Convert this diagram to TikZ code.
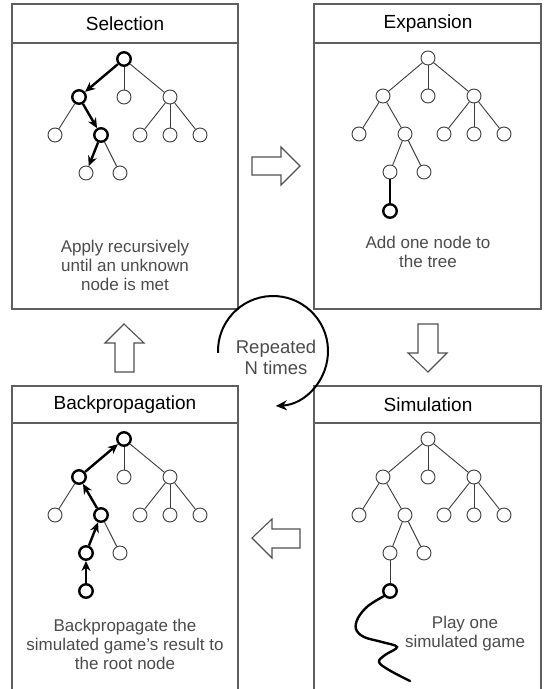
\documentclass[tikz,border=0pt]{standalone}
\usepackage{fontspec}
\setmainfont{Liberation Sans}
\usetikzlibrary{arrows.meta}

\definecolor{framegray}{RGB}{95,95,95}
\definecolor{edgegray}{RGB}{60,60,60}
\definecolor{captiongray}{RGB}{75,75,75}

% per-node and per-edge hooks of the tree, empty unless a panel sets them
\tikzset{
  n r/.style={}, n a/.style={}, n b/.style={}, n c/.style={},
  n aa/.style={}, n ab/.style={}, n ca/.style={}, n cb/.style={}, n cc/.style={},
  n aba/.style={}, n abb/.style={},
  e a/.style={}, e b/.style={}, e c/.style={},
  e aa/.style={}, e ab/.style={}, e ca/.style={}, e cb/.style={}, e cc/.style={},
  e aba/.style={}, e abb/.style={},
}

% the common search tree: #1 name prefix, #2 position of the root
\newcommand\mctstree[2]{%
  \begin{scope}[shift={(#2)}]
    \node[tnode,n r]   (#1r)   at (0,0)     {};
    \node[tnode,n a]   (#1a)   at (-45,38)  {};
    \node[tnode,n b]   (#1b)   at (0,38)    {};
    \node[tnode,n c]   (#1c)   at (46,38)   {};
    \node[tnode,n aa]  (#1aa)  at (-69,76)  {};
    \node[tnode,n ab]  (#1ab)  at (-23,76)  {};
    \node[tnode,n ca]  (#1ca)  at (16,76)   {};
    \node[tnode,n cb]  (#1cb)  at (46,76)   {};
    \node[tnode,n cc]  (#1cc)  at (76,76)   {};
    \node[tnode,n aba] (#1aba) at (-38,114) {};
    \node[tnode,n abb] (#1abb) at (-4,114)  {};
  \end{scope}
  \draw[tedge,e a]   (#1r)  -- (#1a);
  \draw[tedge,e b]   (#1r)  -- (#1b);
  \draw[tedge,e c]   (#1r)  -- (#1c);
  \draw[tedge,e aa]  (#1a)  -- (#1aa);
  \draw[tedge,e ab]  (#1a)  -- (#1ab);
  \draw[tedge,e ca]  (#1c)  -- (#1ca);
  \draw[tedge,e cb]  (#1c)  -- (#1cb);
  \draw[tedge,e cc]  (#1c)  -- (#1cc);
  \draw[tedge,e aba] (#1ab) -- (#1aba);
  \draw[tedge,e abb] (#1ab) -- (#1abb);
}

\begin{document}
\begin{tikzpicture}[x=1pt,y=-1pt,
  frame/.style={draw=framegray, line width=1.1pt},
  tnode/.style={circle, draw=edgegray, line width=0.9pt, fill=white,
                minimum size=14pt, inner sep=0pt},
  hot/.style={draw=black, line width=2.4pt, minimum size=13.5pt},
  tedge/.style={draw=edgegray, line width=0.9pt},
  hotedge/.style={draw=black, line width=2.4pt},
  hotarrow/.style={hotedge, -{Stealth[length=10pt,width=9pt]}},
  hotback/.style={hotedge, {Stealth[length=10pt,width=9pt]}-},
  title/.style={font=\fontsize{19}{22}\selectfont, text=black},
  caption/.style={font=\fontsize{17}{19}\selectfont, text=captiongray, align=center},
  blockarrow/.style={draw=framegray!85!black, line width=1.1pt, fill=white, line join=miter},
]
\useasboundingbox (0,0) rectangle (544,689);

% ---------------- frames ----------------
\draw[frame] (12,4) rectangle (238,309);
\draw[frame] (12,43) -- (238,43);
\draw[frame] (314,4) rectangle (541,309);
\draw[frame] (314,43) -- (541,43);
\draw[frame] (12,700) -- (12,386) -- (238,386) -- (238,700);
\draw[frame] (12,423) -- (238,423);
\draw[frame] (314,700) -- (314,386) -- (541,386) -- (541,700);
\draw[frame] (314,423) -- (541,423);

\node[title] (tsel) at (125,24)  {Selection};
\node[title] (texp) at (428,24)  {Expansion};
\node[title] (tbak) at (125,405) {Backpropagation};
\node[title] (tsim) at (428,405) {Simulation};

% ---------------- Selection ----------------
\begin{scope}[n r/.style=hot, n a/.style=hot, n ab/.style=hot,
              e a/.style=hotarrow, e ab/.style=hotarrow, e aba/.style=hotarrow]
  \mctstree{s}{124,59}
\end{scope}
\node[caption] (csel) at (125,265) {Apply recursively\\until an unknown\\node is met};

% ---------------- Expansion ----------------
\mctstree{x}{428,58}
\node[tnode,hot] (xabaa) at (390,211) {};
\draw[hotedge] (xaba) -- (xabaa);
\node[caption] (cexp) at (428,252) {Add one node to\\the tree};

% ---------------- Backpropagation ----------------
\begin{scope}[n r/.style=hot, n a/.style=hot, n ab/.style=hot, n aba/.style=hot,
              e a/.style=hotback, e ab/.style=hotback, e aba/.style=hotback]
  \mctstree{b}{124,439}
\end{scope}
\node[tnode,hot] (babaa) at (86,591) {};
\draw[hotarrow] (babaa) -- (baba);
\node[caption] (cbak) at (125,644) {Backpropagate the\\simulated game’s result to\\the root node};

% ---------------- Simulation ----------------
\mctstree{m}{428,439}
\node[tnode,hot] (mabaa) at (390,591) {};
\draw[tedge] (maba) -- (mabaa);
\draw[black, line width=2.4pt, line cap=round]
  plot[smooth, tension=0.6] coordinates {
    (mabaa.220) (368,606) (358,618) (356,629) (364,637) (382,642)
    (397,647) (385,655) (379,662) (389,670) (410,681)};
\node[caption] (csim) at (465,634) {Play one\\simulated game};

% ---------------- block arrows between the phases ----------------
\draw[blockarrow] (252,157) -- (281,157) -- (281,147) -- (300,166)
  -- (281,185) -- (281,175) -- (252,175) -- cycle;
\draw[blockarrow] (418,324) -- (438,324) -- (438,353) -- (447,353)
  -- (428,372) -- (408,353) -- (418,353) -- cycle;
\draw[blockarrow] (252,538) -- (272,519) -- (272,529) -- (300,529)
  -- (300,548) -- (272,548) -- (272,558) -- cycle;
\draw[blockarrow] (124,324) -- (144,343) -- (134,343) -- (134,372)
  -- (115,372) -- (115,343) -- (105,343) -- cycle;

% ---------------- repetition loop ----------------
\coordinate (loop) at (273,351);
\draw[black, line width=2pt, -{Stealth[length=11pt,width=10pt]}]
  (loop) ++(182:55pt) arc[start angle=182, end angle=-87, radius=55pt];
\node[font=\fontsize{18.5}{21}\selectfont, text=captiongray, align=center]
  (rep) at (276,357) {Repeated\\N times};

\end{tikzpicture}
\end{document}
